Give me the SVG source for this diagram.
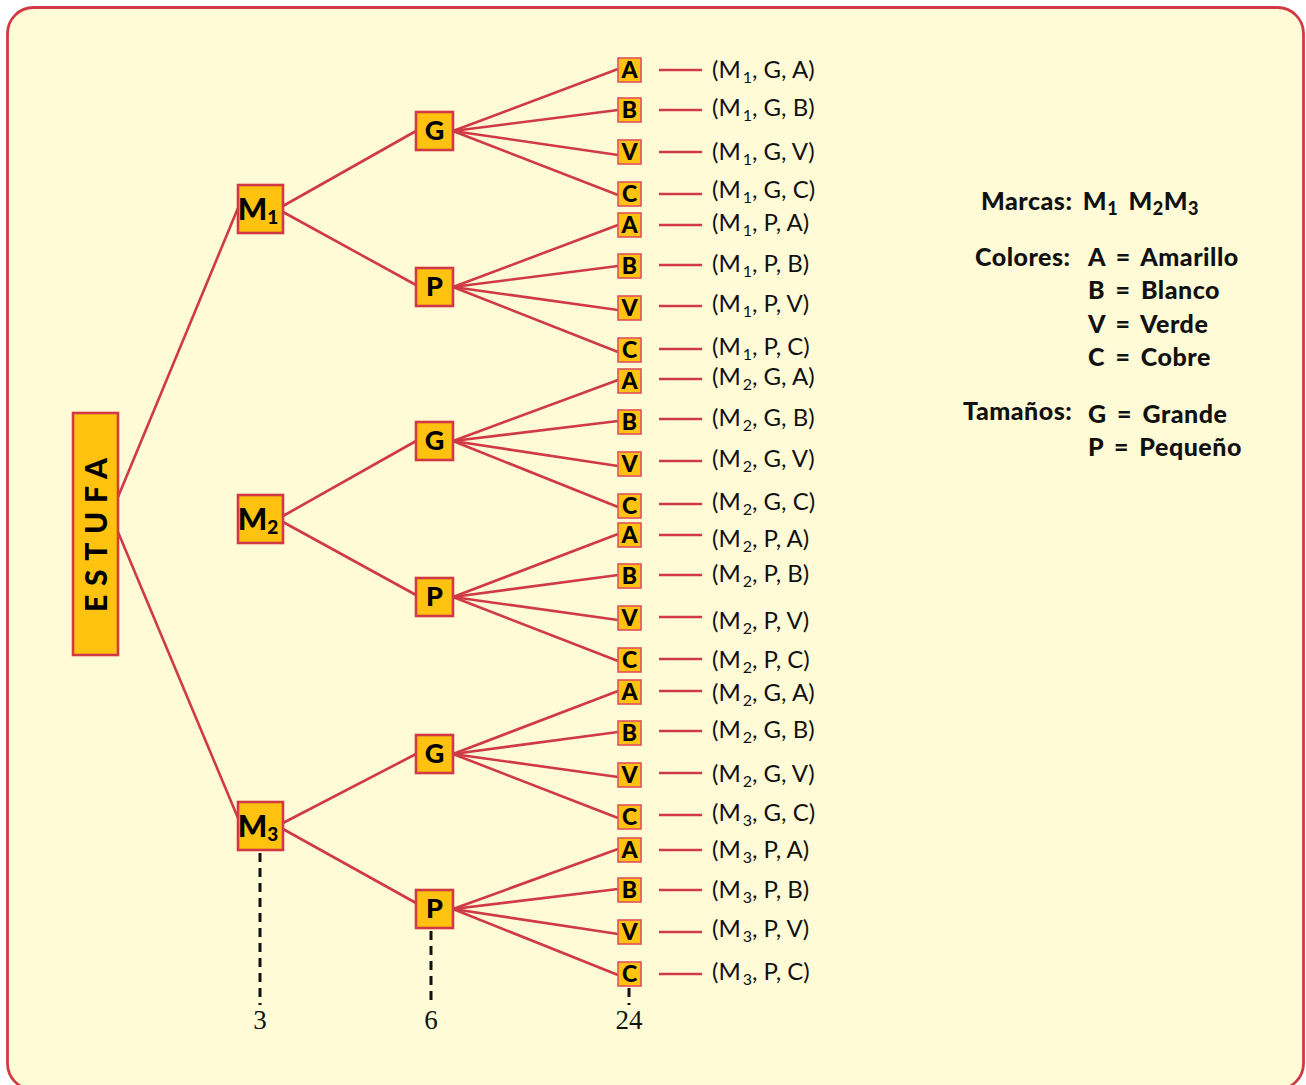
<svg xmlns="http://www.w3.org/2000/svg" width="1306" height="1085" viewBox="0 0 1306 1085">
<style>
.edge{stroke:#cf3a45;stroke-width:2.6;fill:none}
.box{fill:#ffc20e;stroke:#cf3a45;stroke-width:2.6}
.leafbox{fill:#ffc20e;stroke:#e0505a;stroke-width:1.6}
.dash{stroke:#111;stroke-width:3;stroke-dasharray:9 6;fill:none}
.nt{font-family:Lato,"Open Sans",sans-serif;font-weight:900;fill:#000;text-anchor:middle}
.lbl{font-family:Lato,"Open Sans",sans-serif;font-size:24px;fill:#111}
.leg{font-family:Lato,"Open Sans",sans-serif;font-weight:900;font-size:25px;fill:#111;word-spacing:4px;letter-spacing:0.5px}
.num{font-family:"Liberation Serif",serif;font-size:27px;fill:#111;text-anchor:middle}
</style>
<rect x="0" y="0" width="1306" height="1085" fill="#ffffff"/>
<rect x="7.5" y="7.5" width="1296" height="1082" rx="26" fill="#fffbd7" stroke="#cf3a45" stroke-width="2.8"/>

<g id="connectors">
<line class="edge" x1="118" y1="497" x2="238" y2="208"/>
<line class="edge" x1="118" y1="532" x2="238" y2="818"/>
<line class="edge" x1="283" y1="206" x2="416" y2="131"/>
<line class="edge" x1="283" y1="212" x2="416" y2="285"/>
<line class="edge" x1="283" y1="516" x2="416" y2="441"/>
<line class="edge" x1="283" y1="522" x2="416" y2="595"/>
<line class="edge" x1="283" y1="823" x2="416" y2="754"/>
<line class="edge" x1="283" y1="829" x2="416" y2="903"/>
<g id="leaf-edges">
<line class="edge" x1="453" y1="131" x2="618" y2="69"/>
<line class="edge" x1="453" y1="131" x2="618" y2="110"/>
<line class="edge" x1="453" y1="131" x2="618" y2="155"/>
<line class="edge" x1="453" y1="131" x2="618" y2="195"/>
<line class="edge" x1="453" y1="287" x2="618" y2="225"/>
<line class="edge" x1="453" y1="287" x2="618" y2="266"/>
<line class="edge" x1="453" y1="287" x2="618" y2="310"/>
<line class="edge" x1="453" y1="287" x2="618" y2="352"/>
<line class="edge" x1="453" y1="441" x2="618" y2="380"/>
<line class="edge" x1="453" y1="441" x2="618" y2="421"/>
<line class="edge" x1="453" y1="441" x2="618" y2="466"/>
<line class="edge" x1="453" y1="441" x2="618" y2="507"/>
<line class="edge" x1="453" y1="597" x2="618" y2="534"/>
<line class="edge" x1="453" y1="597" x2="618" y2="575"/>
<line class="edge" x1="453" y1="597" x2="618" y2="620"/>
<line class="edge" x1="453" y1="597" x2="618" y2="661"/>
<line class="edge" x1="453" y1="754" x2="618" y2="691"/>
<line class="edge" x1="453" y1="754" x2="618" y2="732"/>
<line class="edge" x1="453" y1="754" x2="618" y2="777"/>
<line class="edge" x1="453" y1="754" x2="618" y2="818"/>
<line class="edge" x1="453" y1="909" x2="618" y2="849"/>
<line class="edge" x1="453" y1="909" x2="618" y2="889"/>
<line class="edge" x1="453" y1="909" x2="618" y2="934"/>
<line class="edge" x1="453" y1="909" x2="618" y2="975"/>
</g>
<g id="label-lines">
<line class="edge" x1="659" y1="70" x2="702" y2="70"/>
<line class="edge" x1="659" y1="110" x2="702" y2="110"/>
<line class="edge" x1="659" y1="152" x2="702" y2="152"/>
<line class="edge" x1="659" y1="194" x2="702" y2="194"/>
<line class="edge" x1="659" y1="225" x2="702" y2="225"/>
<line class="edge" x1="659" y1="265" x2="702" y2="265"/>
<line class="edge" x1="659" y1="306" x2="702" y2="306"/>
<line class="edge" x1="659" y1="349" x2="702" y2="349"/>
<line class="edge" x1="659" y1="379" x2="702" y2="379"/>
<line class="edge" x1="659" y1="419" x2="702" y2="419"/>
<line class="edge" x1="659" y1="461" x2="702" y2="461"/>
<line class="edge" x1="659" y1="504" x2="702" y2="504"/>
<line class="edge" x1="659" y1="535" x2="702" y2="535"/>
<line class="edge" x1="659" y1="575" x2="702" y2="575"/>
<line class="edge" x1="659" y1="617" x2="702" y2="617"/>
<line class="edge" x1="659" y1="659" x2="702" y2="659"/>
<line class="edge" x1="659" y1="691" x2="702" y2="691"/>
<line class="edge" x1="659" y1="731" x2="702" y2="731"/>
<line class="edge" x1="659" y1="773" x2="702" y2="773"/>
<line class="edge" x1="659" y1="815" x2="702" y2="815"/>
<line class="edge" x1="659" y1="850" x2="702" y2="850"/>
<line class="edge" x1="659" y1="890" x2="702" y2="890"/>
<line class="edge" x1="659" y1="932" x2="702" y2="932"/>
<line class="edge" x1="659" y1="974" x2="702" y2="974"/>
</g>
<line class="dash" x1="260" y1="853" x2="260" y2="1005"/>
<line class="dash" x1="431" y1="931" x2="431" y2="1005"/>
<line class="dash" x1="629" y1="988" x2="629" y2="1005"/>
</g>

<g id="estufa">
<rect class="box" x="73" y="413" width="45" height="242"/>
<text class="nt" transform="translate(107,535) rotate(-90)" x="0" y="0" font-size="30" textLength="154" lengthAdjust="spacing">ESTUFA</text>
</g>

<g id="m1"><rect class="box" x="238" y="185" width="45" height="48"/><text class="nt" x="258" y="220" font-size="31">M<tspan font-size="19" dy="4">1</tspan></text></g>
<g id="m2"><rect class="box" x="238" y="495" width="45" height="48"/><text class="nt" x="258" y="530" font-size="31">M<tspan font-size="19" dy="4">2</tspan></text></g>
<g id="m3"><rect class="box" x="238" y="802" width="45" height="48"/><text class="nt" x="258" y="837" font-size="31">M<tspan font-size="19" dy="4">3</tspan></text></g>

<g id="g1"><rect class="box" x="416" y="112" width="37" height="38"/><text class="nt" x="434.5" y="140" font-size="27">G</text></g>
<g id="p1"><rect class="box" x="416" y="268" width="37" height="38"/><text class="nt" x="434.5" y="296" font-size="27">P</text></g>
<g id="g2"><rect class="box" x="416" y="422" width="37" height="38"/><text class="nt" x="434.5" y="450" font-size="27">G</text></g>
<g id="p2"><rect class="box" x="416" y="578" width="37" height="38"/><text class="nt" x="434.5" y="606" font-size="27">P</text></g>
<g id="g3"><rect class="box" x="416" y="735" width="37" height="38"/><text class="nt" x="434.5" y="763" font-size="27">G</text></g>
<g id="p3"><rect class="box" x="416" y="890" width="37" height="38"/><text class="nt" x="434.5" y="918" font-size="27">P</text></g>

<g id="leaves">
<g id="l1"><rect class="leafbox" x="618" y="58" width="23" height="24"/><text class="nt" x="629.5" y="78" font-size="23">A</text></g>
<g id="l2"><rect class="leafbox" x="618" y="98" width="23" height="24"/><text class="nt" x="629.5" y="118" font-size="23">B</text></g>
<g id="l3"><rect class="leafbox" x="618" y="140" width="23" height="24"/><text class="nt" x="629.5" y="160" font-size="23">V</text></g>
<g id="l4"><rect class="leafbox" x="618" y="182" width="23" height="24"/><text class="nt" x="629.5" y="202" font-size="23">C</text></g>
<g id="l5"><rect class="leafbox" x="618" y="213" width="23" height="24"/><text class="nt" x="629.5" y="233" font-size="23">A</text></g>
<g id="l6"><rect class="leafbox" x="618" y="254" width="23" height="24"/><text class="nt" x="629.5" y="274" font-size="23">B</text></g>
<g id="l7"><rect class="leafbox" x="618" y="296" width="23" height="24"/><text class="nt" x="629.5" y="316" font-size="23">V</text></g>
<g id="l8"><rect class="leafbox" x="618" y="338" width="23" height="24"/><text class="nt" x="629.5" y="358" font-size="23">C</text></g>
<g id="l9"><rect class="leafbox" x="618" y="369" width="23" height="24"/><text class="nt" x="629.5" y="389" font-size="23">A</text></g>
<g id="l10"><rect class="leafbox" x="618" y="410" width="23" height="24"/><text class="nt" x="629.5" y="430" font-size="23">B</text></g>
<g id="l11"><rect class="leafbox" x="618" y="452" width="23" height="24"/><text class="nt" x="629.5" y="472" font-size="23">V</text></g>
<g id="l12"><rect class="leafbox" x="618" y="494" width="23" height="24"/><text class="nt" x="629.5" y="514" font-size="23">C</text></g>
<g id="l13"><rect class="leafbox" x="618" y="523" width="23" height="24"/><text class="nt" x="629.5" y="543" font-size="23">A</text></g>
<g id="l14"><rect class="leafbox" x="618" y="564" width="23" height="24"/><text class="nt" x="629.5" y="584" font-size="23">B</text></g>
<g id="l15"><rect class="leafbox" x="618" y="606" width="23" height="24"/><text class="nt" x="629.5" y="626" font-size="23">V</text></g>
<g id="l16"><rect class="leafbox" x="618" y="648" width="23" height="24"/><text class="nt" x="629.5" y="668" font-size="23">C</text></g>
<g id="l17"><rect class="leafbox" x="618" y="680" width="23" height="24"/><text class="nt" x="629.5" y="700" font-size="23">A</text></g>
<g id="l18"><rect class="leafbox" x="618" y="721" width="23" height="24"/><text class="nt" x="629.5" y="741" font-size="23">B</text></g>
<g id="l19"><rect class="leafbox" x="618" y="763" width="23" height="24"/><text class="nt" x="629.5" y="783" font-size="23">V</text></g>
<g id="l20"><rect class="leafbox" x="618" y="805" width="23" height="24"/><text class="nt" x="629.5" y="825" font-size="23">C</text></g>
<g id="l21"><rect class="leafbox" x="618" y="838" width="23" height="24"/><text class="nt" x="629.5" y="858" font-size="23">A</text></g>
<g id="l22"><rect class="leafbox" x="618" y="878" width="23" height="24"/><text class="nt" x="629.5" y="898" font-size="23">B</text></g>
<g id="l23"><rect class="leafbox" x="618" y="920" width="23" height="24"/><text class="nt" x="629.5" y="940" font-size="23">V</text></g>
<g id="l24"><rect class="leafbox" x="618" y="962" width="23" height="24"/><text class="nt" x="629.5" y="982" font-size="23">C</text></g>
</g>

<g id="labels">
<text class="lbl" x="712" y="78">(M<tspan font-size="16" dx="2" dy="5">1</tspan><tspan dy="-5">, G, A)</tspan></text>
<text class="lbl" x="712" y="116">(M<tspan font-size="16" dx="2" dy="5">1</tspan><tspan dy="-5">, G, B)</tspan></text>
<text class="lbl" x="712" y="160">(M<tspan font-size="16" dx="2" dy="5">1</tspan><tspan dy="-5">, G, V)</tspan></text>
<text class="lbl" x="712" y="198">(M<tspan font-size="16" dx="2" dy="5">1</tspan><tspan dy="-5">, G, C)</tspan></text>
<text class="lbl" x="712" y="231">(M<tspan font-size="16" dx="2" dy="5">1</tspan><tspan dy="-5">, P, A)</tspan></text>
<text class="lbl" x="712" y="272">(M<tspan font-size="16" dx="2" dy="5">1</tspan><tspan dy="-5">, P, B)</tspan></text>
<text class="lbl" x="712" y="312">(M<tspan font-size="16" dx="2" dy="5">1</tspan><tspan dy="-5">, P, V)</tspan></text>
<text class="lbl" x="712" y="355">(M<tspan font-size="16" dx="2" dy="5">1</tspan><tspan dy="-5">, P, C)</tspan></text>
<text class="lbl" x="712" y="385">(M<tspan font-size="16" dx="2" dy="5">2</tspan><tspan dy="-5">, G, A)</tspan></text>
<text class="lbl" x="712" y="426">(M<tspan font-size="16" dx="2" dy="5">2</tspan><tspan dy="-5">, G, B)</tspan></text>
<text class="lbl" x="712" y="467">(M<tspan font-size="16" dx="2" dy="5">2</tspan><tspan dy="-5">, G, V)</tspan></text>
<text class="lbl" x="712" y="510">(M<tspan font-size="16" dx="2" dy="5">2</tspan><tspan dy="-5">, G, C)</tspan></text>
<text class="lbl" x="712" y="547">(M<tspan font-size="16" dx="2" dy="5">2</tspan><tspan dy="-5">, P, A)</tspan></text>
<text class="lbl" x="712" y="582">(M<tspan font-size="16" dx="2" dy="5">2</tspan><tspan dy="-5">, P, B)</tspan></text>
<text class="lbl" x="712" y="629">(M<tspan font-size="16" dx="2" dy="5">2</tspan><tspan dy="-5">, P, V)</tspan></text>
<text class="lbl" x="712" y="668">(M<tspan font-size="16" dx="2" dy="5">2</tspan><tspan dy="-5">, P, C)</tspan></text>
<text class="lbl" x="712" y="701">(M<tspan font-size="16" dx="2" dy="5">2</tspan><tspan dy="-5">, G, A)</tspan></text>
<text class="lbl" x="712" y="738">(M<tspan font-size="16" dx="2" dy="5">2</tspan><tspan dy="-5">, G, B)</tspan></text>
<text class="lbl" x="712" y="782">(M<tspan font-size="16" dx="2" dy="5">2</tspan><tspan dy="-5">, G, V)</tspan></text>
<text class="lbl" x="712" y="821">(M<tspan font-size="16" dx="2" dy="5">3</tspan><tspan dy="-5">, G, C)</tspan></text>
<text class="lbl" x="712" y="858">(M<tspan font-size="16" dx="2" dy="5">3</tspan><tspan dy="-5">, P, A)</tspan></text>
<text class="lbl" x="712" y="898">(M<tspan font-size="16" dx="2" dy="5">3</tspan><tspan dy="-5">, P, B)</tspan></text>
<text class="lbl" x="712" y="937">(M<tspan font-size="16" dx="2" dy="5">3</tspan><tspan dy="-5">, P, V)</tspan></text>
<text class="lbl" x="712" y="980">(M<tspan font-size="16" dx="2" dy="5">3</tspan><tspan dy="-5">, P, C)</tspan></text>
</g>

<g id="counts">
<text class="num" x="260" y="1029">3</text>
<text class="num" x="431" y="1029">6</text>
<text class="num" x="629" y="1029">24</text>
</g>

<g id="legend">
<text class="leg" x="981" y="210">Marcas: M<tspan font-size="18" dy="5">1</tspan><tspan dy="-5"> M</tspan><tspan font-size="18" dy="5">2</tspan><tspan dy="-5">M</tspan><tspan font-size="18" dy="5">3</tspan></text>
<text class="leg" x="975" y="266">Colores:</text>
<text class="leg" x="1088" y="266">A = Amarillo</text>
<text class="leg" x="1088" y="299">B = Blanco</text>
<text class="leg" x="1088" y="333">V = Verde</text>
<text class="leg" x="1088" y="366">C = Cobre</text>
<text class="leg" x="963" y="420">Tamaños:</text>
<text class="leg" x="1088" y="423">G = Grande</text>
<text class="leg" x="1088" y="456">P = Pequeño</text>
</g>
</svg>
